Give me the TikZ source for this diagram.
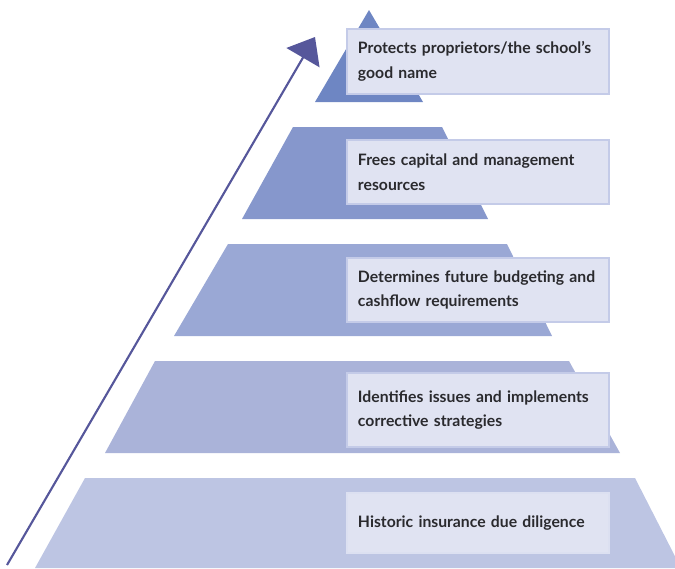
\documentclass[tikz,border=0pt]{standalone}
\usepackage{fontspec}
\setmainfont{Lato}
\hyphenpenalty=10000

\definecolor{tierA}{HTML}{6E86C3}
\definecolor{tierB}{HTML}{8697CC}
\definecolor{tierC}{HTML}{9AA8D5}
\definecolor{tierD}{HTML}{AAB3D9}
\definecolor{tierE}{HTML}{BDC5E3}
\definecolor{boxfill}{HTML}{E0E3F2}
\definecolor{boxline}{HTML}{C4CBE8}
\definecolor{arrowblue}{HTML}{56579B}
\definecolor{textdark}{HTML}{2A2A2E}

\usetikzlibrary{arrows.meta}

\begin{document}
\begin{tikzpicture}[x=0.025cm,y=-0.025cm,
  benefit/.style={draw=boxline,line width=1.4pt,fill=boxfill,anchor=west,
    minimum width=6.55cm,text width=6.0cm,align=left,inner xsep=7.5pt,
    font=\bfseries\fontsize{11.2}{17.5}\selectfont,text=textdark}]

\useasboundingbox (0,0) rectangle (675,568);

\fill [tierA] (369,10) -- (423,102) -- (315,102) -- cycle;
\fill [tierB] (293,127) -- (442,127) -- (488,219) -- (242,219) -- cycle;
\fill [tierC] (228,244) -- (507,244) -- (552,336) -- (174,336) -- cycle;
\fill [tierD] (155,361) -- (569,361) -- (620,453) -- (105,453) -- cycle;
\fill [tierE] (85,478) -- (635,478) -- (681,568) -- (35,568) -- cycle;

\coordinate (tail) at (7,565);
\coordinate (tip) at (315,37);
\draw [arrowblue,line width=1.5pt,-{Triangle[length=17pt,width=27pt]}] (tail) -- (tip);

\node [benefit,minimum height=46pt] (protects) at (346,61.5)
  {Protects proprietors/the school’s good name};
\node [benefit,minimum height=46pt] (frees) at (346,172)
  {Frees capital and management resources};
\node [benefit,minimum height=46pt] (determines) at (346,290)
  {Determines future budgeting and cashflow requirements};
\node [benefit,minimum height=52pt] (identifies) at (346,410)
  {Identifies issues and implements corrective strategies};
\node [benefit,minimum height=43pt,draw=boxline!60] (historic) at (346,523)
  {Historic insurance due diligence};

\end{tikzpicture}
\end{document}
